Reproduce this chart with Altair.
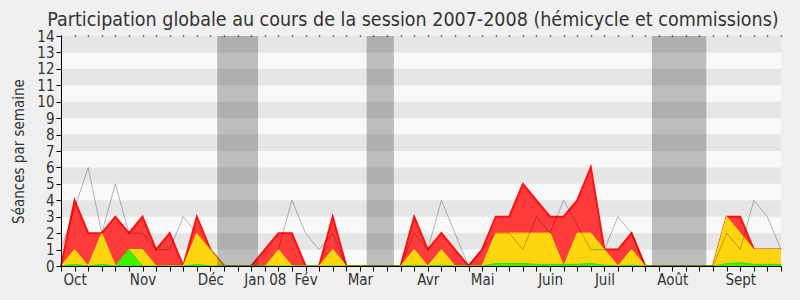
import altair as alt
import pandas as pd

FONT = "DejaVu Sans Condensed, DejaVu Sans, sans-serif"

weeks = list(range(54))
# total sessions (red)
total = [0, 4, 2, 2, 3, 2, 3, 1, 2, 0,
         3, 1, 0, 0, 0, 1, 2, 2, 0, 0,
         3, 0, 0, 0, 0, 0, 3, 1, 2, 1,
         0, 1, 3, 3, 5, 4, 3, 3, 4, 6,
         1, 1, 2, 0, 0, 0, 0, 0, 0, 3,
         3, 1, 1, 1]
# commissions (yellow)
yellow = [0, 1, 0, 2, 0, 1, 1, 0, 0, 0,
          2, 1, 0, 0, 0, 0, 1, 0, 0, 0,
          1, 0, 0, 0, 0, 0, 1, 0, 1, 0,
          0, 0, 2, 2, 2, 2, 2, 0, 2, 2,
          1, 0, 1, 0, 0, 0, 0, 0, 0, 3,
          2, 1, 1, 1]
# hemicycle (green)
green = [0, 0.1, 0, 0.1, 0, 1, 0, 0, 0, 0,
         0.1, 0, 0, 0, 0, 0, 0, 0, 0, 0,
         0, 0, 0, 0, 0, 0, 0.05, 0, 0.05, 0,
         0, 0, 0.15, 0.15, 0.15, 0.1, 0.1, 0.1, 0.1, 0.15,
         0.05, 0, 0.05, 0, 0, 0, 0, 0, 0, 0.15,
         0.2, 0.1, 0.1, 0.1]
# median of all deputies (grey line)
median = [1, 3.5, 6, 2, 5, 2, 2, 1, 1, 3,
          2, 1, 0, 0, 0, 0, 1, 4, 2, 1,
          2, 0, 0, 0, 0, 0, 2, 1, 4, 2,
          0, 1, 2, 2, 1, 3, 2, 4, 2.5, 1,
          1, 3, 2, 0, 0, 0, 0, 0, 0, 2,
          1, 4, 3, 1]

month_weeks = [1, 6, 11, 15, 18, 22, 27, 31, 36, 40, 45, 50]
month_labels = ["Oct", "Nov", "Déc", "Jan 08", "Fév", "Mar", "Avr", "Mai",
                "Juin", "Juil", "Août", "Sept"]

vac_start = [11.5, 22.5, 43.5]
vac_end = [14.5, 24.5, 47.5]

stripe_lo = [1, 3, 5, 7, 9, 11, 13]
stripe_hi = [2, 4, 6, 8, 10, 12, 14]

df = pd.DataFrame({"week": weeks, "total": total, "yellow": yellow,
                   "green": green, "median": median})
bands = pd.DataFrame({"s": vac_start, "e": vac_end})
stripes = pd.DataFrame({"lo": stripe_lo, "hi": stripe_hi})

label_expr = ""
for w, l in zip(month_weeks, month_labels):
    label_expr += f"datum.value == {w} ? '{l}' : "
label_expr += "''"

xscale = alt.Scale(domain=[0, 53], nice=False, zero=False)
yscale = alt.Scale(domain=[0, 14], nice=False)

x_bottom = alt.Axis(values=weeks, labelExpr=label_expr, tickSize=5,
                    tickColor="#000", domainColor="#000", domainWidth=1,
                    grid=False, zindex=2,
                    labelFont=FONT, labelFontSize=15, labelColor="#333",
                    labelPadding=1, title=None, labelFlush=False,
                    labelOverlap=False)
x_top = alt.Axis(orient="top", values=weeks, labels=False, domain=False,
                 tickSize=1, tickColor="#000", tickWidth=1.5, grid=False,
                 title=None, zindex=2)
y_axis = alt.Axis(values=list(range(15)), tickSize=5, tickColor="#000",
                  domainColor="#000", domainWidth=1, grid=False, zindex=2,
                  labelFont=FONT, labelFontSize=15, labelColor="#333",
                  labelPadding=2,
                  title="Séances par semaine", titleFont=FONT,
                  titleFontSize=15, titleFontWeight="normal",
                  titleColor="#333", titlePadding=10)

stripe_layer = alt.Chart(stripes).mark_rect(color="#e6e6e6").encode(
    y=alt.Y("lo:Q", scale=yscale, axis=y_axis),
    y2="hi:Q",
)

red = alt.Chart(df).mark_area(color="#ff3c3c", opacity=1,
                              line={"color": "#ff1010", "strokeWidth": 2}).encode(
    x=alt.X("week:Q", scale=xscale, axis=x_bottom),
    y=alt.Y("total:Q", scale=yscale, axis=y_axis),
)
yel = alt.Chart(df).mark_area(color="#ffd50f", opacity=1,
                              line={"color": "#ffe800", "strokeWidth": 1}).encode(
    x=alt.X("week:Q", scale=xscale, axis=None),
    y=alt.Y("yellow:Q", scale=yscale, axis=y_axis),
)
grn = alt.Chart(df).mark_area(color="#3cf000", opacity=1,
                              line={"color": "#2ee000", "strokeWidth": 1}).encode(
    x=alt.X("week:Q", scale=xscale, axis=None),
    y=alt.Y("green:Q", scale=yscale, axis=y_axis),
)
med = alt.Chart(df).mark_line(color="#000", opacity=0.27, strokeWidth=1).encode(
    x=alt.X("week:Q", scale=xscale, axis=None),
    y=alt.Y("median:Q", scale=yscale, axis=y_axis),
)
band_layer = alt.Chart(bands).mark_rect(color="#323232", opacity=0.3).encode(
    x=alt.X("s:Q", scale=xscale, axis=x_top),
    x2="e:Q",
)

chart = alt.layer(stripe_layer, red, yel, grn, med, band_layer).resolve_axis(
    x="independent", y="shared"
).properties(
    width=720, height=230,
    title=alt.TitleParams(
        "Participation globale au cours de la session 2007-2008 (hémicycle et commissions)",
        font=FONT, fontSize=19.5, fontWeight="normal", color="#333",
        anchor="middle", dx=-8, offset=-1),
    autosize=alt.AutoSizeParams(type="none"),
    padding={"left": 61, "top": 36, "right": 19, "bottom": 34},
    background="#f0f0f0",
).configure_view(stroke=None, fill="#f9f9f9")

chart.save("out.html", embed_options={"renderer": "svg", "actions": False})
